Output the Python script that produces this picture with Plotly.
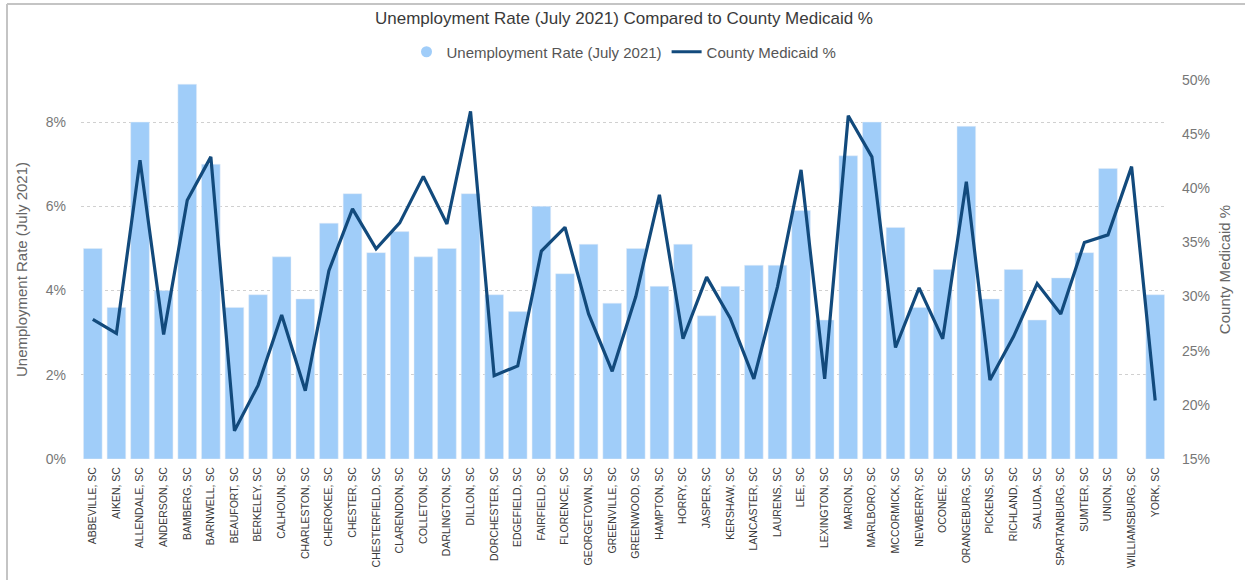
import plotly.graph_objects as go

counties = ["ABBEVILLE, SC", "AIKEN, SC", "ALLENDALE, SC", "ANDERSON, SC", "BAMBERG, SC", "BARNWELL, SC",
            "BEAUFORT, SC", "BERKELEY, SC", "CALHOUN, SC", "CHARLESTON, SC", "CHEROKEE, SC", "CHESTER, SC",
            "CHESTERFIELD, SC", "CLARENDON, SC", "COLLETON, SC", "DARLINGTON, SC", "DILLON, SC",
            "DORCHESTER, SC", "EDGEFIELD, SC", "FAIRFIELD, SC", "FLORENCE, SC", "GEORGETOWN, SC",
            "GREENVILLE, SC", "GREENWOOD, SC", "HAMPTON, SC", "HORRY, SC", "JASPER, SC", "KERSHAW, SC",
            "LANCASTER, SC", "LAURENS, SC", "LEE, SC", "LEXINGTON, SC", "MARION, SC", "MARLBORO, SC",
            "MCCORMICK, SC", "NEWBERRY, SC", "OCONEE, SC", "ORANGEBURG, SC", "PICKENS, SC", "RICHLAND, SC",
            "SALUDA, SC", "SPARTANBURG, SC", "SUMTER, SC", "UNION, SC", "WILLIAMSBURG, SC", "YORK, SC"]

unemployment = [5.0, 3.6, 8.0, 4.0, 8.9, 7.0,
                3.6, 3.9, 4.8, 3.8, 5.6, 6.3,
                4.9, 5.4, 4.8, 5.0, 6.3,
                3.9, 3.5, 6.0, 4.4, 5.1,
                3.7, 5.0, 4.1, 5.1, 3.4, 4.1,
                4.6, 4.6, 5.9, 3.3, 7.2, 8.0,
                5.5, 3.6, 4.5, 7.9, 3.8, 4.5,
                3.3, 4.3, 4.9, 6.9, None, 3.9]

medicaid = [27.9, 26.6, 42.6, 26.5, 38.9, 42.9,
            17.6, 21.8, 28.3, 21.3, 32.4, 38.1,
            34.4, 36.8, 41.1, 36.7, 47.1,
            22.7, 23.6, 34.2, 36.4, 28.4,
            23.1, 30.0, 39.4, 26.1, 31.8, 28.0,
            22.4, 30.9, 41.7, 22.4, 46.7, 42.9,
            25.3, 30.8, 26.1, 40.6, 22.3, 26.3,
            31.2, 28.4, 35.0, 35.7, 42.0, 20.4]

left_ticks = [0, 2, 4, 6, 8]
right_ticks = [15, 20, 25, 30, 35, 40, 45, 50]

W, H = 1245, 580
L, R, T, B = 81, 78, 80, 121
pw, ph = W - L - R, H - T - B

def px(x):
    return (x - L) / pw

def py(y):
    return (H - B - y) / ph

BAR = "#A0CDF9"
LINE = "#124A7C"
FONT = "Liberation Sans, Arial, sans-serif"

fig = go.Figure()
fig.add_trace(go.Bar(x=counties, y=unemployment, marker_color=BAR, name="Unemployment Rate (July 2021)",
                     showlegend=False, yaxis="y"))
fig.add_trace(go.Scatter(x=[None], y=[None], mode="markers", name="Unemployment Rate (July 2021)",
                         marker=dict(symbol="circle", size=11, color=BAR), showlegend=True))
fig.add_trace(go.Scatter(x=counties, y=medicaid, mode="lines", name="County Medicaid %",
                         line=dict(color=LINE, width=3.2), yaxis="y2", connectgaps=True))

fig.update_layout(
    width=W, height=H,
    margin=dict(l=L, r=R, t=T, b=B, autoexpand=False),
    paper_bgcolor="white", plot_bgcolor="white",
    font=dict(family=FONT, color="#666666"),
    title=dict(text="Unemployment Rate (July 2021) Compared to County Medicaid %",
               x=0.5, xanchor="center", xref="paper", y=1 - 18 / H, yanchor="middle",
               font=dict(size=17, color="#3a3a3a")),
    legend=dict(orientation="h", x=0.5, xanchor="center", y=py(52), yanchor="middle",
                font=dict(size=15, color="#555555"), itemwidth=30, tracegroupgap=0,
                bgcolor="rgba(0,0,0,0)"),
    bargap=0.21,
    xaxis=dict(type="category", tickangle=-90, tickfont=dict(size=10.5, color="#3a3a3a"),
               ticklabelstandoff=5,
               showgrid=False, showline=False, zeroline=False, ticks="", automargin=False),
    yaxis=dict(range=[0, 9], tickvals=left_ticks, ticktext=[f"{v}%" for v in left_ticks],
               showgrid=True, gridcolor="#d0d0d0", griddash="dot", gridwidth=1,
               zeroline=False, showline=False, ticks="", ticklabelstandoff=14,
               tickfont=dict(size=14, color="#777777"),
               title=dict(text="Unemployment Rate (July 2021)", font=dict(size=15, color="#666666"),
                          standoff=14), automargin=False),
    yaxis2=dict(range=[15, 50], tickvals=right_ticks, ticktext=[f"{v}%" for v in right_ticks],
                overlaying="y", side="right", showgrid=False, zeroline=False, showline=False,
                ticks="", ticklabelstandoff=14, tickfont=dict(size=14, color="#777777"),
                title=dict(text="County Medicaid %", font=dict(size=15, color="#666666"), standoff=10),
                automargin=False),
    shapes=[
        dict(type="line", xref="paper", yref="paper", x0=px(7), x1=px(W), y0=py(4), y1=py(4),
             line=dict(color="#c4c4c4", width=2)),
        dict(type="line", xref="paper", yref="paper", x0=px(7), x1=px(7), y0=py(4), y1=py(H),
             line=dict(color="#c4c4c4", width=2)),
    ],
)

fig.write_html("out.html")
